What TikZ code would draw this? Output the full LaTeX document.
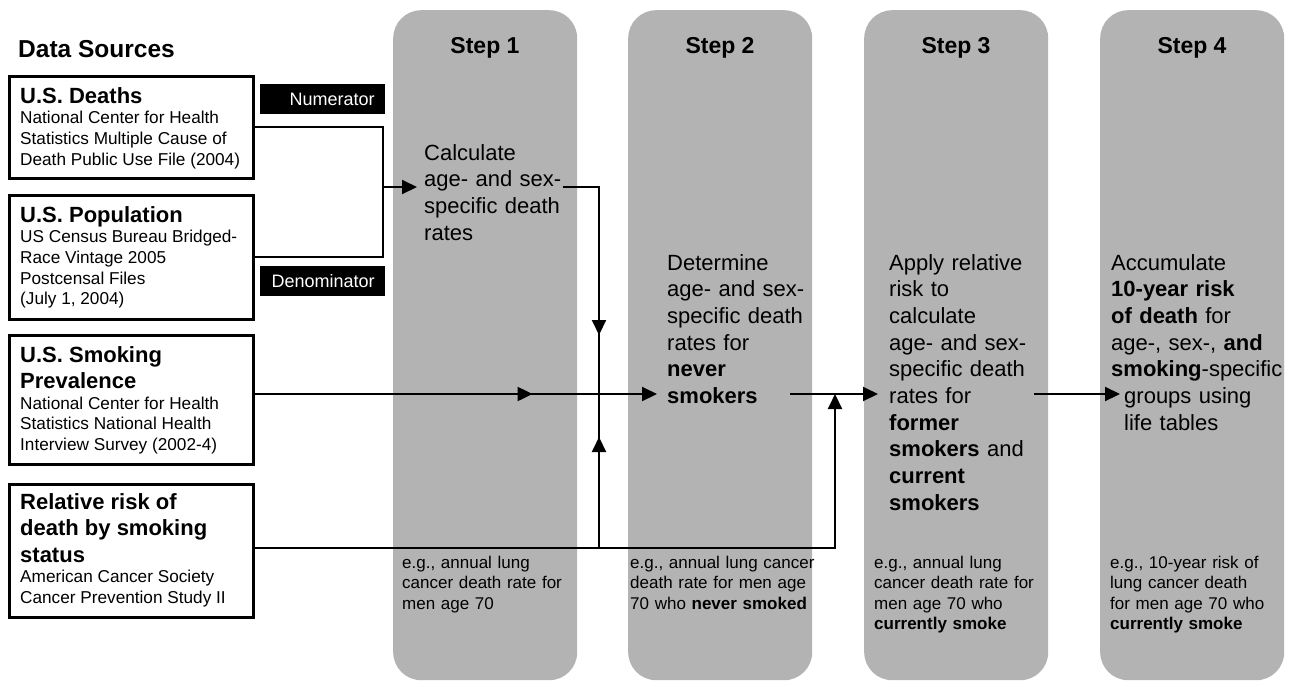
\documentclass[tikz,border=0pt]{standalone}
\usepackage{fontspec}
\setmainfont{Liberation Sans}
\usepackage{tikz}
\usetikzlibrary{arrows.meta}
\usetikzlibrary{decorations.markings}

\definecolor{colgray}{RGB}{179,179,179}
\newcommand{\srchead}{\fontsize{22}{26.5}\selectfont\bfseries\spaceskip=0pt\xspaceskip=0pt\relax}
\newcommand{\srcsub}{\fontsize{17.2}{20.7}\selectfont\spaceskip=0pt\xspaceskip=0pt\relax}

\tikzset{
	stepcol/.style={fill=colgray, rounded corners=28pt, minimum width=184pt, minimum height=670pt, anchor=north west, inner sep=0pt},
	steptitle/.style={anchor=base, inner sep=0pt, font=\fontsize{23}{27}\selectfont\bfseries},
	srcbox/.style={draw, line width=2.6pt, minimum width=244pt, anchor=north west},
	srctext/.style={anchor=base west, inner sep=0pt, text width=230pt, align=left, font=\srcsub},
	tagbox/.style={fill=black, text=white, anchor=north west, minimum height=30pt, text width=104pt, inner xsep=10.5pt, align=right, font=\fontsize{18}{21}\selectfont},
	steptext/.style={anchor=base west, inner sep=0pt, text width=200pt, align=left, font=\fontsize{22}{26.7}\selectfont},
	egtext/.style={anchor=base west, inner sep=0pt, text width=200pt, align=left, font=\fontsize{17}{20.5}\selectfont},
	conn/.style={line width=2pt},
	arrowend/.style={-{Triangle[length=15pt,width=14pt]}},
	midtip/.style={postaction={decorate}, decoration={markings, mark=at position #1 with {\arrow{Triangle[length=15pt,width=14pt]}}}}
}

\begin{document}
\begin{tikzpicture}[x=1pt, y=-1pt]
			\useasboundingbox (0,0) rectangle (1297,686);
			% step columns
			\node[stepcol] (col1) at (393,10) {};
			\node[stepcol] (col2) at (628,10) {};
			\node[stepcol] (col3) at (864,10) {};
			\node[stepcol] (col4) at (1100,10) {};
			\node[steptitle] (t1) at (485,53) {Step 1};
			\node[steptitle] (t2) at (720,53) {Step 2};
			\node[steptitle] (t3) at (956,53) {Step 3};
			\node[steptitle] (t4) at (1192,53) {Step 4};
			
			\node[anchor=base west, inner sep=0pt, font=\fontsize{24.5}{29}\selectfont\bfseries] (dsrc) at (18,57) {Data Sources};
			
			\node[srcbox, minimum height=102pt] (deaths) at (8,75) {};
			\node[srctext] (deathstxt) at (20,103) {{\srchead U.S. Deaths\par}{\srcsub National Center for Health\\Statistics Multiple Cause of\\Death Public Use File (2004)\par}};
			\node[srcbox, minimum height=124pt] (pop) at (8,194) {};
			\node[srctext] (poptxt) at (20,222) {{\srchead U.S. Population\par}{\srcsub US Census Bureau Bridged-\\Race Vintage 2005\\Postcensal Files\\(July 1, 2004)\par}};
			\node[srcbox, minimum height=129pt] (smoke) at (8,334) {};
			\node[srctext] (smoketxt) at (20,362) {{\srchead U.S. Smoking\\Prevalence\par}{\srcsub National Center for Health\\Statistics National Health\\Interview Survey (2002-4)\par}};
			\node[srcbox, minimum height=133pt] (risk) at (8,483) {};
			\node[srctext] (risktxt) at (20,509) {{\srchead Relative risk of\\death by smoking\\status\par}{\srcsub American Cancer Society\\Cancer Prevention Study II\par}};
			
			\node[tagbox] (numer) at (260,84) {Numerator};
			\node[tagbox] (denom) at (260,266) {Denominator};
			
			\node[steptext] (s1txt) at (424,160) {Calculate\\age- and sex-\\specific death\\rates};
			\node[steptext] (s2txt) at (667,270) {Determine\\age- and sex-\\specific death\\rates for\\\textbf{never}\\\textbf{smokers}};
			\node[steptext] (s3txt) at (889,270) {Apply relative\\risk to\\calculate\\age- and sex-\\specific death\\rates for\\\textbf{former}\\\textbf{smokers} and\\\textbf{current}\\\textbf{smokers}};
			\node[steptext] (s4txt) at (1111,270) {Accumulate\\\textbf{10-year risk}\\\textbf{of death} for\\age-, sex-, \textbf{and}\\\textbf{smoking}-specific\\\hspace*{13pt}groups using\\\hspace*{13pt}life tables};
			
			\node[egtext] (eg1) at (402,568) {e.g., annual lung\\cancer death rate for\\men age 70};
			\node[egtext] (eg2) at (630,568) {e.g., annual lung cancer\\death rate for men age\\70 who \textbf{never smoked}};
			\node[egtext] (eg3) at (874,568) {e.g., annual lung\\cancer death rate for\\men age 70 who\\\textbf{currently smoke}};
			\node[egtext] (eg4) at (1110,568) {e.g., 10-year risk of\\lung cancer death\\for men age 70 who\\\textbf{currently smoke}};
			
			\coordinate (brk) at (383,187);
			\coordinate (s1in) at (417,187);
			\coordinate (s1out) at (563,187);
			\coordinate (jtop) at (599,187);
			\coordinate (cross) at (599,394);
			\coordinate (jbot) at (599,548);
			\coordinate (s2in) at (657,394);
			\coordinate (s2out) at (790,394);
			\coordinate (up3) at (835,548);
			\coordinate (s3in) at (878,394);
			\coordinate (s3out) at (1034,394);
			\coordinate (s4in) at (1120,394);
			
			\draw[conn] (deaths.east) -- (deaths.east -| brk) -- (pop.east -| brk) -- (pop.east);
			\draw[conn, arrowend] (brk) -- (s1in);
			\draw[conn, midtip=184pt] (s1out) -- (jtop) -- (cross);
			\draw[conn, midtip=111pt] (jbot) -- (cross);
			\draw[conn, arrowend, midtip=278pt] (smoke.east |- cross) -- (s2in);
			\draw[conn, arrowend] (risk.east |- jbot) -- (up3) -- (up3 |- s3in);
			\draw[conn, arrowend] (s2out) -- (s3in);
			\draw[conn, arrowend] (s3out) -- (s4in);
		\end{tikzpicture}
\end{document}
